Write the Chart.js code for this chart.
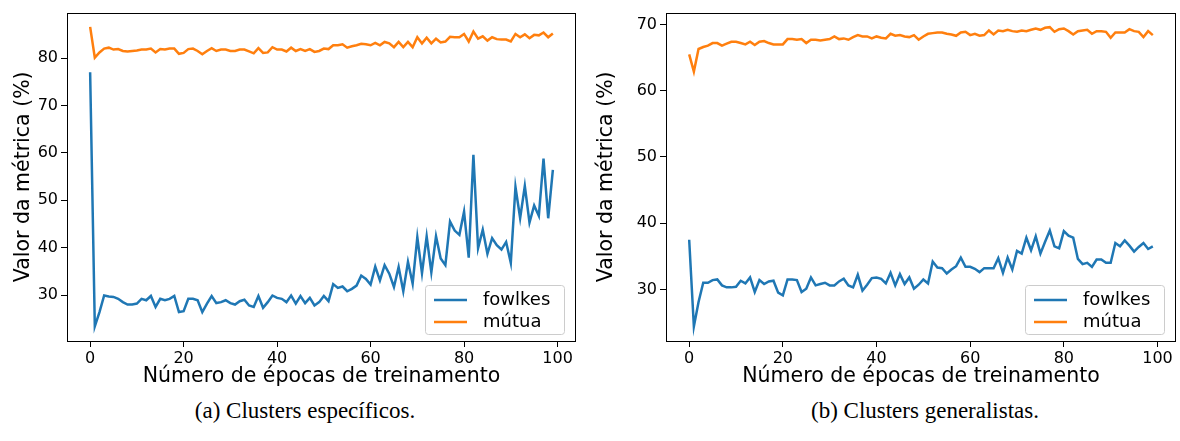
<!DOCTYPE html>
<html>
<head>
<meta charset="utf-8">
<script src="https://cdn.jsdelivr.net/npm/chart.js@4.4.1/dist/chart.umd.min.js"></script>
<style>
body { margin: 0; background: #fff; width: 1180px; height: 441px; position: relative; overflow: hidden; }
canvas { position: absolute; top: 0; }
#chartA { left: 0; }
#chartB { left: 590px; }
.caption { position: absolute; top: 398px; font-family: "Liberation Serif", serif; font-size: 23px; color: #000; white-space: nowrap; transform: translateX(-50%); }
</style>
</head>
<body>
<canvas id="chartA" width="590" height="389"></canvas>
<canvas id="chartB" width="590" height="389"></canvas>
<div class="caption" id="capA" style="left:305px">(a) Clusters específicos.</div>
<div class="caption" id="capB" style="left:925px">(b) Clusters generalistas.</div>
<script>
// epochs 0..99
const epochs = Array.from({ length: 100 }, (_, i) => i);
const seriesNames = ['fowlkes', 'mútua'];
const xTicks = [0, 20, 40, 60, 80, 100];
const yTicksA = [30, 40, 50, 60, 70, 80];
const yTicksB = [30, 40, 50, 60, 70];

// (a) Clusters específicos
const fowlkesA = [
    77.0, 23.4, 26.4, 29.9, 29.7, 29.6, 29.2, 28.5, 28.0, 28.0,
    28.2, 29.2, 28.9, 29.8, 27.5, 29.2, 28.9, 29.2, 29.8, 26.4,
    26.6, 29.2, 29.2, 28.9, 26.4, 28.2, 29.8, 28.3, 28.5, 28.9,
    28.3, 28.0, 28.7, 29.0, 27.8, 27.5, 29.8, 27.3, 28.5, 29.9,
    29.4, 29.2, 28.5, 29.9, 28.2, 29.8, 28.3, 29.4, 27.8, 28.5,
    29.8, 28.7, 32.3, 31.5, 31.8, 30.8, 31.3, 32.0, 34.1, 33.4,
    32.2, 36.0, 33.1, 36.3, 34.5, 31.7, 35.9, 30.8, 37.0, 32.4,
    42.2, 34.6, 42.4, 34.8, 42.4, 37.7, 36.3, 45.5, 43.6, 42.7,
    47.6, 37.9, 59.6, 39.9, 43.8, 38.7, 42.0, 40.5, 39.6, 41.2,
    36.8, 52.8, 46.2, 53.0, 45.3, 48.9, 46.7, 58.8, 46.2, 56.4
];
const mutuaA = [
    86.6, 80.1, 81.2, 82.0, 82.2, 81.8, 81.9, 81.5, 81.4, 81.5,
    81.6, 81.8, 81.8, 82.0, 81.2, 81.9, 81.8, 82.0, 82.0, 80.9,
    81.1, 81.9, 82.0, 81.5, 80.8, 81.5, 82.1, 81.5, 81.8, 81.8,
    81.5, 81.5, 81.8, 81.8, 81.4, 81.0, 82.1, 81.1, 81.2, 82.3,
    81.8, 81.8, 81.4, 82.2, 81.5, 81.9, 81.5, 81.9, 81.3, 81.5,
    82.0, 81.9, 82.7, 82.7, 82.9, 82.2, 82.5, 82.7, 83.0, 82.9,
    82.7, 83.2, 82.7, 83.4, 83.1, 82.3, 83.4, 82.3, 83.4, 82.3,
    84.4, 83.1, 84.3, 83.1, 84.1, 83.3, 83.5, 84.5, 84.4, 84.4,
    85.1, 83.5, 85.6, 84.1, 84.6, 83.7, 84.4, 84.0, 83.9, 83.9,
    83.5, 85.1, 84.4, 85.0, 84.2, 84.9, 84.8, 85.4, 84.4, 85.2
];

// (b) Clusters generalistas
const fowlkesB = [
    37.5, 24.4, 28.1, 31.0, 31.0, 31.4, 31.5, 30.6, 30.3, 30.3,
    30.4, 31.3, 30.9, 31.8, 29.6, 31.4, 30.8, 31.2, 31.3, 29.5,
    29.1, 31.5, 31.5, 31.4, 29.6, 30.1, 31.8, 30.6, 30.8, 31.0,
    30.6, 30.6, 31.2, 31.6, 30.6, 30.3, 32.2, 29.8, 30.7, 31.7,
    31.8, 31.6, 30.9, 32.5, 30.6, 32.3, 30.8, 31.8, 30.1, 30.7,
    31.5, 30.9, 34.2, 33.3, 33.2, 32.4, 33.0, 33.5, 34.8, 33.4,
    33.4, 33.1, 32.6, 33.2, 33.2, 33.2, 34.7, 32.5, 34.8, 33.0,
    35.8, 35.4, 37.8, 35.9, 38.0, 35.4, 37.2, 38.9, 36.5, 36.2,
    38.8, 38.1, 37.8, 34.6, 33.8, 34.0, 33.4, 34.5, 34.5, 34.0,
    34.0, 37.0, 36.5, 37.4, 36.6, 35.7, 36.4, 37.0, 36.1, 36.5
];
const mutuaB = [
    65.5, 62.9, 66.3, 66.6, 66.8, 67.2, 67.2, 66.8, 67.1, 67.4,
    67.4, 67.2, 67.0, 67.4, 66.9, 67.4, 67.5, 67.2, 67.0, 67.0,
    67.0, 67.8, 67.8, 67.7, 67.8, 67.2, 67.7, 67.7, 67.6, 67.7,
    67.8, 68.2, 67.8, 67.9, 67.7, 68.1, 68.4, 68.2, 68.2, 67.9,
    68.2, 68.0, 67.9, 68.6, 68.3, 68.4, 68.2, 68.1, 68.4, 67.7,
    68.2, 68.6, 68.7, 68.8, 68.8, 68.6, 68.5, 68.3, 68.8, 68.9,
    68.4, 68.6, 68.3, 68.4, 69.1, 68.5, 69.1, 69.0, 69.2, 69.0,
    68.9, 69.1, 69.0, 69.2, 69.4, 69.2, 69.5, 69.6, 68.9, 69.3,
    69.4, 69.0, 68.5, 69.0, 69.1, 69.2, 68.6, 69.0, 69.0, 68.9,
    68.0, 68.8, 68.8, 68.8, 69.3, 69.0, 68.9, 68.1, 69.0, 68.4
];

const colors = ['#1f77b4', '#ff7f0e'];
const fontFamily = "'DejaVu Sans', sans-serif";

// box around the plot area (all four spines)
const framePlugin = {
    id: 'frame',
    afterDatasetsDraw(chart) {
        const a = chart.chartArea;
        const ctx = chart.ctx;
        ctx.save();
        ctx.strokeStyle = '#000';
        ctx.lineWidth = 1;
        ctx.strokeRect(Math.round(a.left) + 0.5, Math.round(a.top) + 0.5,
            Math.round(a.right - a.left) - 1, Math.round(a.bottom - a.top));
        ctx.restore();
    }
};

// matplotlib style legend in the lower right corner
const legendPlugin = {
    id: 'mplLegend',
    afterDraw(chart) {
        const a = chart.chartArea;
        const ctx = chart.ctx;
        const w = 139, h = 49;
        const x = a.right - 12 - w;
        const y = a.bottom - 7 - h;
        ctx.save();
        ctx.fillStyle = 'rgba(255,255,255,0.8)';
        ctx.strokeStyle = '#cccccc';
        ctx.lineWidth = 1;
        ctx.beginPath();
        ctx.roundRect(x + 0.5, y + 0.5, w, h, 3);
        ctx.fill();
        ctx.stroke();
        ctx.font = '18px ' + fontFamily;
        ctx.textBaseline = 'middle';
        chart.data.datasets.forEach((ds, i) => {
            const ry = y + 15 + i * 22;
            ctx.strokeStyle = ds.borderColor;
            ctx.lineWidth = 2.5;
            ctx.beginPath();
            ctx.moveTo(x + 9, ry);
            ctx.lineTo(x + 42, ry);
            ctx.stroke();
            ctx.fillStyle = '#000';
            ctx.fillText(ds.label, x + 58, ry);
        });
        ctx.restore();
    }
};

function makeChart(id, fowlkes, mutua, yMin, yMax, yTicks, yWidth, titlePad, padRight) {
    const ctx = document.getElementById(id).getContext('2d');
    return new Chart(ctx, {
        type: 'line',
        data: {
            datasets: [
                { label: seriesNames[0], data: epochs.map((e, i) => ({ x: e, y: fowlkes[i] })), borderColor: colors[0] },
                { label: seriesNames[1], data: epochs.map((e, i) => ({ x: e, y: mutua[i] })), borderColor: colors[1] }
            ].map(d => Object.assign(d, { borderWidth: 2.5, pointRadius: 0, tension: 0, fill: false }))
        },
        options: {
            responsive: false,
            animation: false,
            devicePixelRatio: 1,
            layout: { padding: { top: 12, right: padRight, bottom: 0, left: 0 } },
            plugins: { legend: { display: false }, tooltip: { enabled: false } },
            scales: {
                x: {
                    type: 'linear',
                    min: -4.95,
                    max: 103.95,
                    afterBuildTicks: axis => { axis.ticks = xTicks.map(v => ({ value: v })); },
                    afterFit: axis => { axis.height = 48; },
                    grid: { drawOnChartArea: false, drawTicks: true, tickLength: 6, color: '#000' },
                    border: { display: false },
                    ticks: { color: '#000', font: { family: fontFamily, size: 16 }, padding: 2, maxRotation: 0 },
                    title: {
                        display: true,
                        text: 'Número de épocas de treinamento',
                        color: '#000',
                        font: { family: fontFamily, size: 20.5, lineHeight: 1.2 },
                        padding: { top: 0, bottom: 0 }
                    }
                },
                y: {
                    min: yMin,
                    max: yMax,
                    afterBuildTicks: axis => { axis.ticks = yTicks.map(v => ({ value: v })); },
                    afterFit: axis => { axis.width = yWidth; },
                    grid: { drawOnChartArea: false, drawTicks: true, tickLength: 6, color: '#000' },
                    border: { display: false },
                    ticks: { color: '#000', font: { family: fontFamily, size: 16 }, padding: 3 },
                    title: {
                        display: true,
                        text: 'Valor da métrica (%)',
                        color: '#000',
                        font: { family: fontFamily, size: 20.5, lineHeight: 1.2 },
                        padding: { top: titlePad, bottom: 0 }
                    }
                }
            }
        },
        plugins: [framePlugin, legendPlugin]
    });
}

makeChart('chartA', fowlkesA, mutuaA, 20.3, 89.6, yTicksA, 67, 11, 14);
makeChart('chartB', fowlkesB, mutuaB, 22.2, 71.8, yTicksB, 76, 4, 4);
</script>
</body>
</html>
